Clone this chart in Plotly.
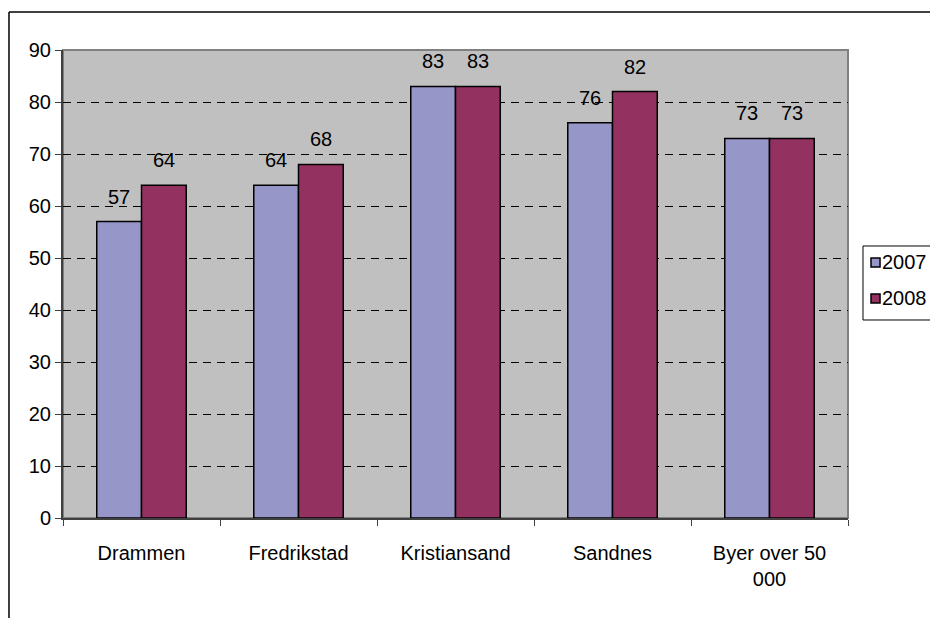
import plotly.graph_objects as go

# Data
categories = ["Drammen", "Fredrikstad", "Kristiansand", "Sandnes", "Byer over 50<br>000"]
values_2007 = [57, 64, 83, 76, 73]
values_2008 = [64, 68, 83, 82, 73]
series = [("2007", values_2007, "#9696C8"), ("2008", values_2008, "#933260")]

FONT = "Liberation Sans, Arial, sans-serif"

fig = go.Figure()
for name, vals, color in series:
    fig.add_trace(go.Bar(
        x=categories,
        y=vals,
        name=name,
        marker=dict(color=color, line=dict(color="black", width=1.5)),
    ))

# Value labels above the bars
for i, (name, vals, color) in enumerate(series):
    shift = -22.5 if i == 0 else 22.5
    for cat, v in zip(categories, vals):
        fig.add_annotation(
            x=cat, y=v, text=str(v), showarrow=False,
            xshift=shift, yshift=25, yanchor="middle",
            font=dict(family=FONT, size=20, color="black"),
        )

# Plot area border (gray top/right) and outer chart frame
fig.add_shape(type="rect", xref="paper", yref="paper", x0=0, y0=0, x1=1, y1=1,
              line=dict(color="#808080", width=2), layer="below")
fig.add_shape(type="line", xref="paper", yref="paper", x0=-0.0688, y0=1.0812, x1=1.2, y1=1.0812,
              line=dict(color="black", width=1.5))
fig.add_shape(type="line", xref="paper", yref="paper", x0=-0.0688, y0=-0.25, x1=-0.0688, y1=1.0812,
              line=dict(color="black", width=1.5))

# Legend drawn by hand, Excel style (box, small squares, labels)
fig.add_shape(type="rect", xref="paper", yref="paper", x0=1.0191, y0=0.4231, x1=1.15, y1=0.5812,
              line=dict(color="black", width=1), fillcolor="white")
legend_rows = [(0.5556, 0.5363, 0.5470), (0.4786, 0.4594, 0.4701)]
for (name, vals, color), (top, bottom, mid) in zip(series, legend_rows):
    fig.add_shape(type="rect", xref="paper", yref="paper",
                  x0=1.0293, x1=1.0408, y0=bottom, y1=top,
                  line=dict(color="black", width=1.5), fillcolor=color)
    fig.add_annotation(xref="paper", yref="paper", x=1.0410, y=mid, text=name,
                       showarrow=False, xanchor="left", yanchor="middle",
                       font=dict(family=FONT, size=20, color="black"))

# page body has an 8px margin, so the figure is sized/offset to compensate
fig.update_layout(
    width=930,
    height=610,
    margin=dict(l=55, r=90, t=42, b=100, autoexpand=False),
    paper_bgcolor="white",
    plot_bgcolor="#C0C0C0",
    barmode="group",
    bargap=0.43,
    bargroupgap=0,
    font=dict(family=FONT, size=20, color="black"),
    showlegend=False,
    xaxis=dict(
        showline=True, linecolor="#404040", linewidth=2,
        ticks="outside", tickson="boundaries", ticklen=6, tickcolor="#404040",
        tickfont=dict(family=FONT, size=20, color="black"),
        ticklabelstandoff=16,
        showgrid=False,
    ),
    yaxis=dict(
        range=[0, 90], dtick=10,
        showline=True, linecolor="#404040", linewidth=2,
        ticks="outside", ticklen=6, tickcolor="#404040",
        tickfont=dict(family=FONT, size=20, color="black"),
        showgrid=True, gridcolor="black", gridwidth=1, griddash="8px,6px",
        zeroline=False,
    ),
)

fig.write_html("out.html")
